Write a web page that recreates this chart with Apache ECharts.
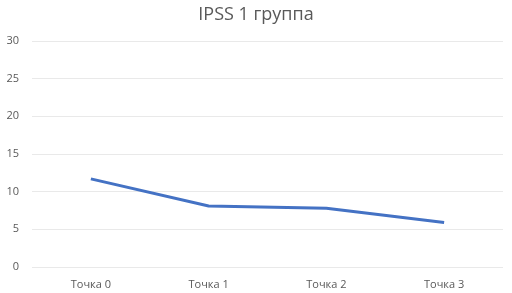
<!DOCTYPE html>
<html>
<head>
<meta charset="utf-8">
<script src="https://cdn.jsdelivr.net/npm/echarts@6/dist/echarts.min.js"></script>
<style>
  html, body { margin: 0; padding: 0; background: #fff; }
  #chart { width: 512px; height: 293px; }
</style>
</head>
<body>
<div id="chart"></div>
<script>
const categories = ['Точка 0', 'Точка 1', 'Точка 2', 'Точка 3'];
const ipssValues = [11.7, 8.1, 7.8, 5.9];
const yTicks = { min: 0, max: 30, interval: 5 };

const chart = echarts.init(document.getElementById('chart'));
const labelFont = {
    color: '#595959',
    fontSize: 11,
    fontFamily: '"Open Sans", "Noto Sans", sans-serif'
};
chart.setOption({
    animation: false,
    title: {
        text: 'IPSS 1 группа',
        left: 'center',
        top: 1,
        textStyle: {
            color: '#595959',
            fontSize: 18,
            fontWeight: 'normal',
            fontFamily: '"Open Sans", "Noto Sans", sans-serif'
        }
    },
    grid: {
        left: 32,
        right: 9,
        top: 41,
        bottom: 26
    },
    xAxis: {
        type: 'category',
        data: categories,
        boundaryGap: true,
        axisLine: { show: false },
        axisTick: { show: false },
        axisLabel: Object.assign({ margin: 12 }, labelFont)
    },
    yAxis: {
        type: 'value',
        min: yTicks.min,
        max: yTicks.max,
        interval: yTicks.interval,
        axisLine: { show: false },
        axisTick: { show: false },
        axisLabel: Object.assign({ margin: 13 }, labelFont),
        splitLine: { lineStyle: { color: '#e9e9e9', width: 1 } }
    },
    series: [{
        name: 'IPSS',
        type: 'line',
        data: ipssValues,
        symbol: 'none',
        lineStyle: { color: '#4472C4', width: 3 }
    }]
});
</script>
</body>
</html>
